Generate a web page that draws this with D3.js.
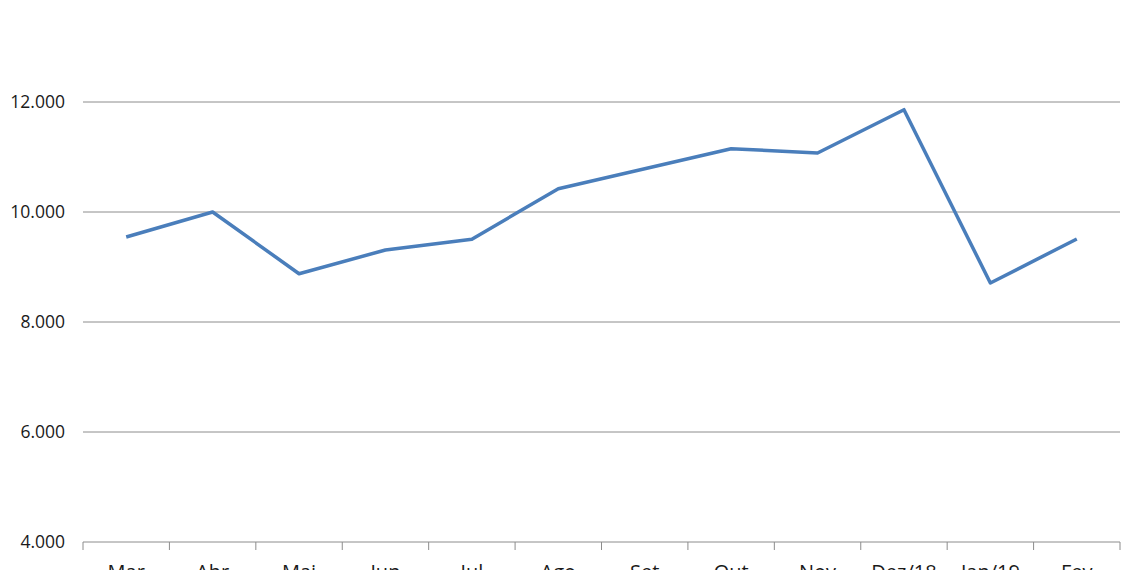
<!DOCTYPE html>
<html>
<head>
<meta charset="utf-8">
<script src="https://cdn.jsdelivr.net/npm/d3@7"></script>
<style>
  html, body { margin: 0; padding: 0; background: #fff; overflow: hidden; }
  text { font-family: "Open Sans", "Noto Sans", sans-serif; fill: #1a1a1a; }
</style>
</head>
<body>
<div id="chart"></div>
<script>
'use strict';

// months along the x axis
const months = ["Mar", "Abr", "Mai", "Jun", "Jul", "Ago", "Set", "Out", "Nov", "Dez/18", "Jan/19", "Fev"];
// the one series
const values = [9546, 10000, 8878, 9309, 9505, 10424, 10787, 11151, 11073, 11860, 8709, 9510];
// y ticks
const yTicks = [4000, 6000, 8000, 10000, 12000];

const W = 1140, H = 570;
const plotLeft = 83, plotRight = 1120, plotTop = 102, plotBottom = 542;

const svg = d3.select('#chart').append('svg')
    .attr("width", W)
    .attr("height", H);

const x = d3.scaleBand().domain(months).range([plotLeft, plotRight]).padding(0);
const y = d3.scaleLinear().domain([4000, 12000]).range([plotBottom, plotTop]);

const fmt = d3.format(",.0f");

// gridlines
svg.append('g').selectAll('line').data(yTicks.slice(1)).enter().append('line')
    .attr('x1', plotLeft).attr('x2', plotRight)
    .attr('y1', d => y(d)).attr('y2', d => y(d))
    .attr('stroke', '#8c8c8c')
    .attr('stroke-width', 1);

// y labels
svg.append('g').selectAll('text').data(yTicks).enter().append('text')
    .attr('x', 65)
    .attr('y', d => y(d))
    .attr('dy', '0.36em')
    .attr('text-anchor', 'end')
    .style('font-size', '17.5px')
    .text(d => fmt(d).replace(/,/g, '.'));

// x axis, ticks going down at the band edges
const xAxis = svg.append('g');
xAxis.append('line')
    .attr('x1', plotLeft).attr('x2', plotRight)
    .attr('y1', plotBottom).attr('y2', plotBottom)
    .attr('stroke', '#8c8c8c');
const edges = months.map(m => x(m)).concat([plotRight]);
xAxis.selectAll('line.tick').data(edges).enter().append('line')
    .attr('class', 'tick')
    .attr('x1', d => d).attr('x2', d => d)
    .attr('y1', plotBottom).attr('y2', plotBottom + 8)
    .attr('stroke', '#8c8c8c');
// month labels sit low, partly below the bottom edge as in the original
xAxis.selectAll('text').data(months).enter().append('text')
    .attr('x', d => x(d) + x.bandwidth() / 2)
    .attr('y', 579)
    .attr('text-anchor', 'middle')
    .style('font-size', '20px')
    .text(d => d);

// the series line
const line = d3.line()
    .x((d, i) => x(months[i]) + x.bandwidth() / 2)
    .y(d => y(d));

svg.append('path')
    .datum(values)
    .attr('d', line)
    .attr('fill', 'none')
    .attr('stroke', '#4a7ebb')
    .attr('stroke-width', 3.5)
    .attr('stroke-linejoin', 'round');
</script>
</body>
</html>
